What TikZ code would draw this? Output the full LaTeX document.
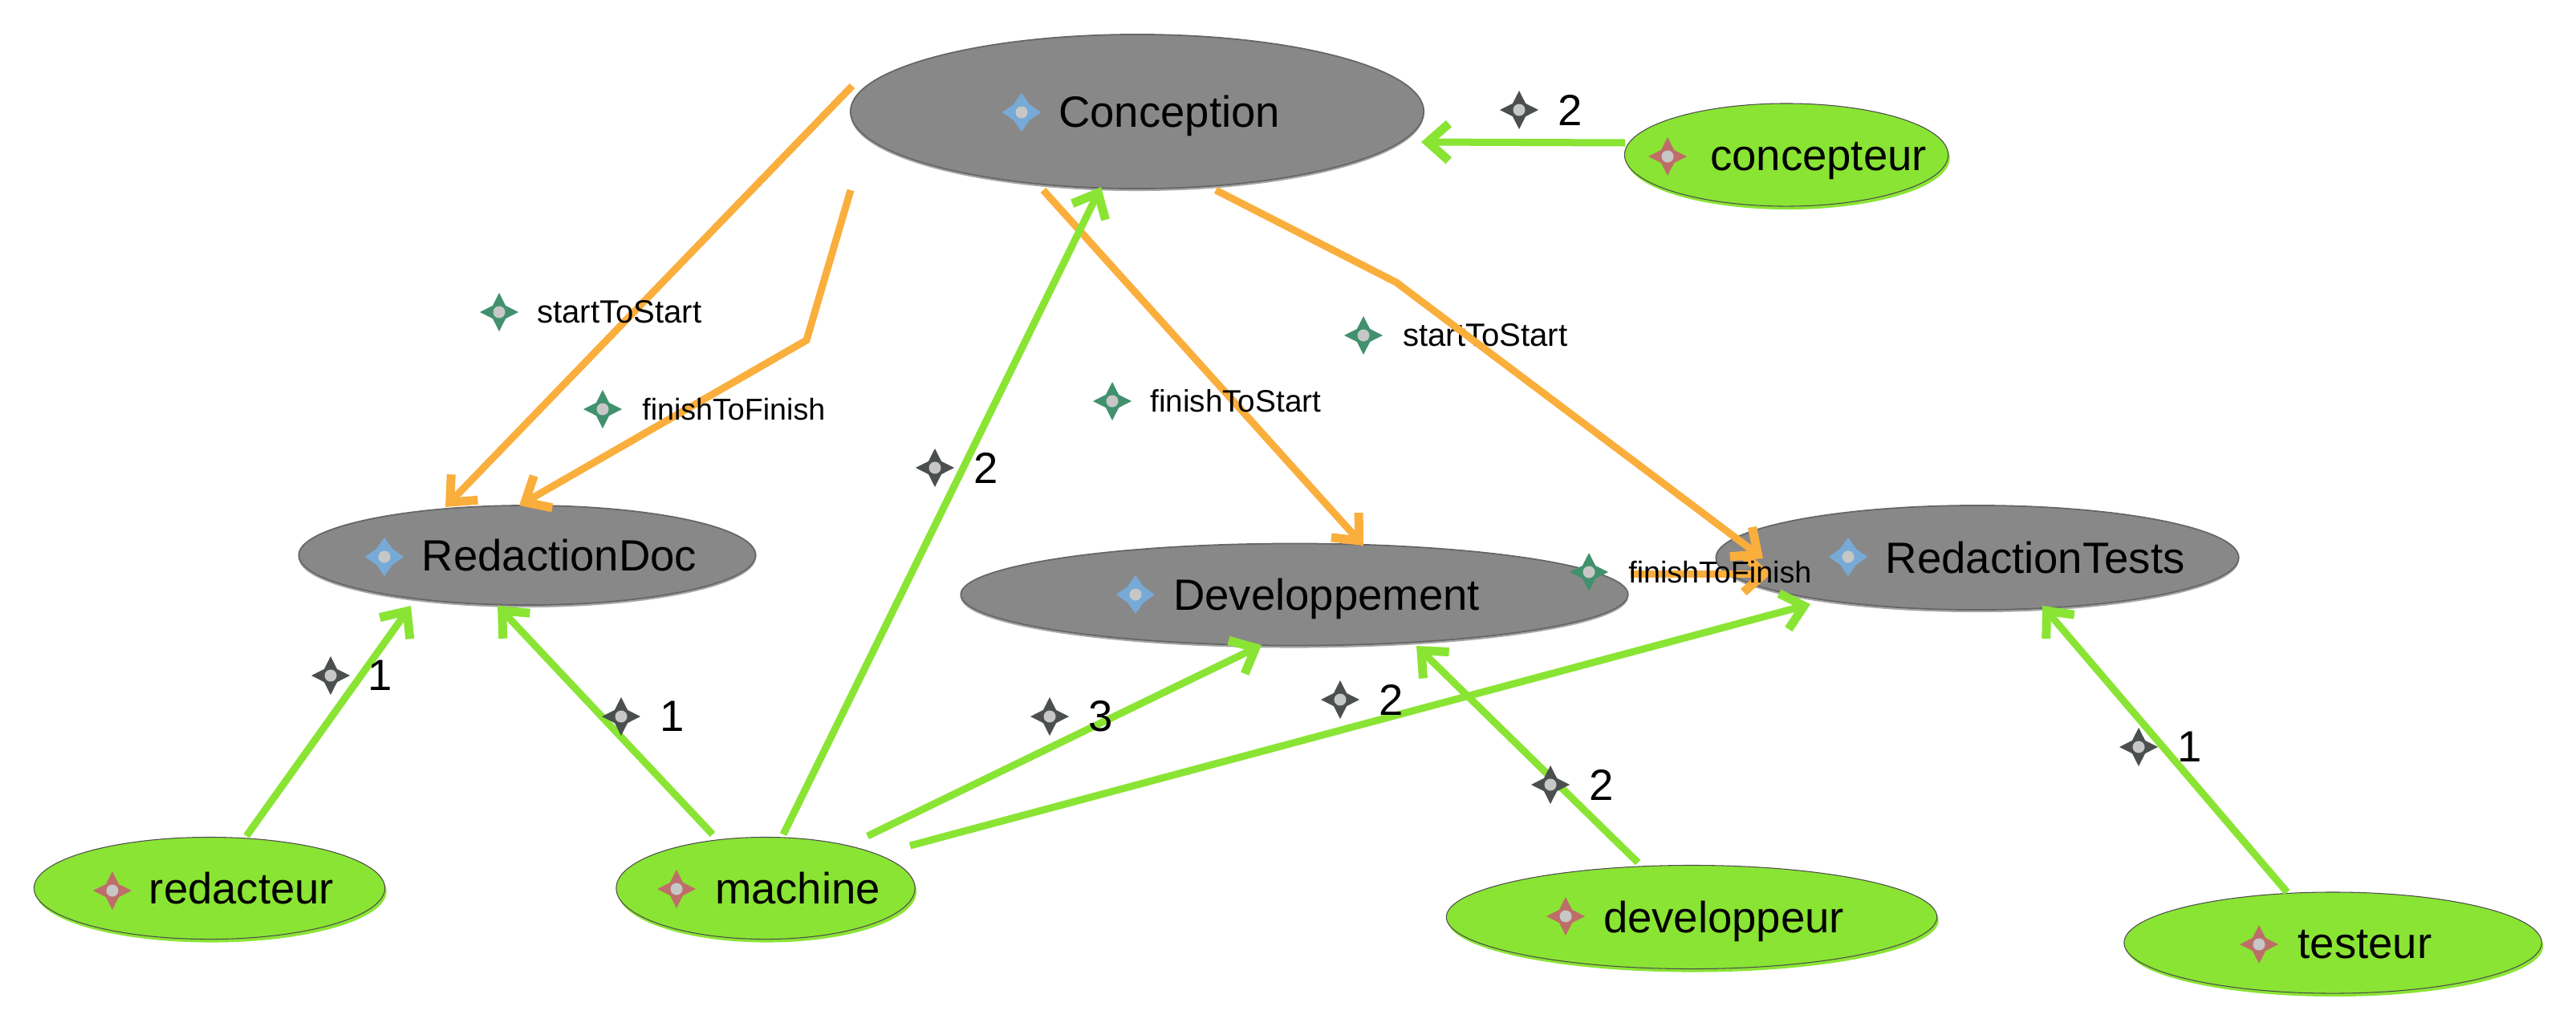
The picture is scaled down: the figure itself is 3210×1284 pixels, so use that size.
\documentclass[tikz,border=0pt]{standalone}
\usepackage{fontspec}
\setmainfont{Liberation Sans}
\usepackage{tikz}
\usetikzlibrary{shapes, arrows.meta, positioning, shadows}
\definecolor{taskgray}{RGB}{136, 136, 136}
\definecolor{resgreen}{RGB}{138, 228, 52}
\definecolor{deporange}{RGB}{250, 174, 60}
\definecolor{iconblue}{RGB}{120, 170, 215}
\definecolor{iconred}{RGB}{190, 110, 105}
\definecolor{icongreen}{RGB}{65, 145, 110}
\definecolor{icondark}{RGB}{75, 80, 78}
\newcommand{\withicon}[2][0.8cm]{\makebox[0pt]{\hspace{#1}#2}}

\tikzset{
  taskbox/.style={ellipse, draw=black!60, line width=0.5pt, fill=taskgray, inner sep=0pt, text height=0.39cm, text depth=0cm, font=\fontsize{15.5}{18}\selectfont,
    general shadow={fill=black!35, shadow yshift=-0.03cm}},
  resbox/.style={ellipse, draw=black!70, line width=0.3pt, fill=resgreen, inner sep=0pt, text height=0.39cm, text depth=0cm, font=\fontsize{15.5}{18}\selectfont,
    general shadow={fill=resgreen, shadow yshift=-0.04cm, shadow xshift=0.02cm}},
  iconmark/.style={star, star points=4, star point ratio=2.1, fill=#1, inner sep=0pt, minimum size=0.48cm,
    path picture={\fill[black!22] (path picture bounding box.center) circle (0.075cm);}},
  deplabel/.style={inner sep=0pt, font=\fontsize{11}{13}\selectfont},
  countlabel/.style={inner sep=0pt, font=\fontsize{15.5}{18}\selectfont},
  depedge/.style={draw=deporange, line width=0.09cm, -{Straight Barb[length=0.26cm, width=0.46cm, line width=0.11cm]}},
  usesedge/.style={draw=resgreen, line width=0.09cm, -{Straight Barb[length=0.26cm, width=0.46cm, line width=0.11cm]}}
}

\begin{document}
\begin{tikzpicture}[x=0.01cm, y=-0.01cm]
  \useasboundingbox (0, 0) rectangle (3210, 1284);

  % Tasks
  \node[taskbox, minimum width=7.14cm, minimum height=1.92cm] (conception) at (1417, 139) {\withicon{Conception}};
  \node[taskbox, minimum width=5.69cm, minimum height=1.24cm] (redactiondoc) at (657, 692) {\withicon{RedactionDoc}};
  \node[taskbox, minimum width=8.31cm, minimum height=1.27cm] (developpement) at (1613, 741) {\withicon{Developpement}};
  \node[taskbox, minimum width=6.51cm, minimum height=1.30cm] (redactiontests) at (2464, 695) {\withicon[1.44cm]{RedactionTests}};

  % Resources
  \node[resbox, minimum width=4.03cm, minimum height=1.28cm] (concepteur) at (2226, 193) {\withicon{concepteur}};
  \node[resbox, minimum width=4.37cm, minimum height=1.27cm] (redacteur) at (261, 1107) {\withicon{redacteur}};
  \node[resbox, minimum width=3.72cm, minimum height=1.27cm] (machine) at (954, 1107) {\withicon{machine}};
  \node[resbox, minimum width=6.11cm, minimum height=1.29cm] (developpeur) at (2108, 1143) {\withicon{developpeur}};
  \node[resbox, minimum width=5.20cm, minimum height=1.26cm] (testeur) at (2907, 1175) {\withicon{testeur}};

  % Icons inside the ellipses
  \node[iconmark=iconblue, star point ratio=1.7] (iconconception) at (1273, 140) {};
  \node[iconmark=iconblue, star point ratio=1.7] (iconredactiondoc) at (479, 694) {};
  \node[iconmark=iconblue, star point ratio=1.7] (icondevelop) at (1415, 741) {};
  \node[iconmark=iconblue, star point ratio=1.7] (icontests) at (2303, 694) {};
  \node[iconmark=iconred] (iconconcepteur) at (2078, 195) {};
  \node[iconmark=iconred] (iconredacteur) at (140, 1110) {};
  \node[iconmark=iconred] (iconmachine) at (843, 1108) {};
  \node[iconmark=iconred] (icondevpeur) at (1951, 1142) {};
  \node[iconmark=iconred] (icontesteur) at (2815, 1177) {};

  % Dependencies
  \coordinate (bendfinish) at (1005, 424);
  \coordinate (bendstart) at (1740, 352);
  \draw[depedge] ([shift={(-355,-32)}]conception.center) -- ([shift={(-102,-60)}]redactiondoc.center);
  \draw[depedge] ([shift={(-357,98)}]conception.center) -- (bendfinish) -- ([shift={(-10,-62)}]redactiondoc.center);
  \draw[depedge] ([shift={(-117,98)}]conception.center) -- ([shift={(86,-61)}]developpement.center);
  \draw[depedge] ([shift={(419,-26)}]developpement.center) -- ([shift={(-257,20)}]redactiontests.center);

  % Resource uses
  \draw[usesedge] ([shift={(-201,-15)}]concepteur.center) -- ([shift={(354,38)}]conception.center);
  \draw[usesedge] ([shift={(22,-67)}]machine.center) -- ([shift={(-45,94)}]conception.center);
  \draw[usesedge] ([shift={(46,-65)}]redacteur.center) -- ([shift={(-145,63)}]redactiondoc.center);
  \draw[usesedge] ([shift={(-66,-67)}]machine.center) -- ([shift={(-37,63)}]redactiondoc.center);
  \draw[usesedge] ([shift={(127,-65)}]machine.center) -- ([shift={(-41,63)}]developpement.center);
  \draw[usesedge] ([shift={(180,-53)}]machine.center) -- ([shift={(-208,58)}]redactiontests.center);
  \draw[usesedge] ([shift={(-67,-68)}]developpeur.center) -- ([shift={(152,64)}]developpement.center);
  \draw[usesedge] ([shift={(-57,-63)}]testeur.center) -- ([shift={(81,60)}]redactiontests.center);

  % Dependency labels
  \node[iconmark=icongreen] (markstartdoc) at (622, 389) {};
  \node[deplabel, font=\fontsize{11.4}{13}\selectfont, right=0.21cm of markstartdoc] (textstartdoc) {startToStart};
  \node[iconmark=icongreen] (markfinishdoc) at (751, 510) {};
  \node[deplabel, font=\fontsize{10.7}{13}\selectfont, right=0.23cm of markfinishdoc] (textfinishdoc) {finishToFinish};
  \node[iconmark=icongreen] (markfinishdev) at (1386, 500) {};
  \node[deplabel, right=0.21cm of markfinishdev] (textfinishdev) {finishToStart};
  \node[iconmark=icongreen] (markstarttests) at (1699, 418) {};
  \node[deplabel, font=\fontsize{11.4}{13}\selectfont, right=0.23cm of markstarttests] (textstarttests) {startToStart};
  \node[iconmark=icongreen] (markfinishtests) at (1980, 713) {};
  \node[deplabel, font=\fontsize{10.7}{13}\selectfont, right=0.23cm of markfinishtests] (textfinishtests) {finishToFinish};

  % Drawn last, its head lies over the label above
  \draw[depedge] ([shift={(98,98)}]conception.center) -- (bendstart) -- ([shift={(-267,1)}]redactiontests.center);

  % Counts
  \node[iconmark=icondark] (markcountconcepteur) at (1893, 137) {};
  \node[countlabel, right=0.22cm of markcountconcepteur] (countconcepteur) {2};
  \node[iconmark=icondark] (markcountconception) at (1165, 583) {};
  \node[countlabel, right=0.22cm of markcountconception] (countconception) {2};
  \node[iconmark=icondark] (markcountredacteur) at (412, 842) {};
  \node[countlabel, right=0.2cm of markcountredacteur] (countredacteur) {1};
  \node[iconmark=icondark] (markcountdoc) at (774, 893) {};
  \node[countlabel, right=0.22cm of markcountdoc] (countdoc) {1};
  \node[iconmark=icondark] (markcountdev) at (1308, 893) {};
  \node[countlabel, right=0.22cm of markcountdev] (countdev) {3};
  \node[iconmark=icondark] (markcounttests) at (1670, 872) {};
  \node[countlabel, right=0.22cm of markcounttests] (counttests) {2};
  \node[iconmark=icondark] (markcountdevpeur) at (1932, 978) {};
  \node[countlabel, right=0.22cm of markcountdevpeur] (countdevpeur) {2};
  \node[iconmark=icondark] (markcounttesteur) at (2665, 931) {};
  \node[countlabel, right=0.22cm of markcounttesteur] (counttesteur) {1};
\end{tikzpicture}
\end{document}
